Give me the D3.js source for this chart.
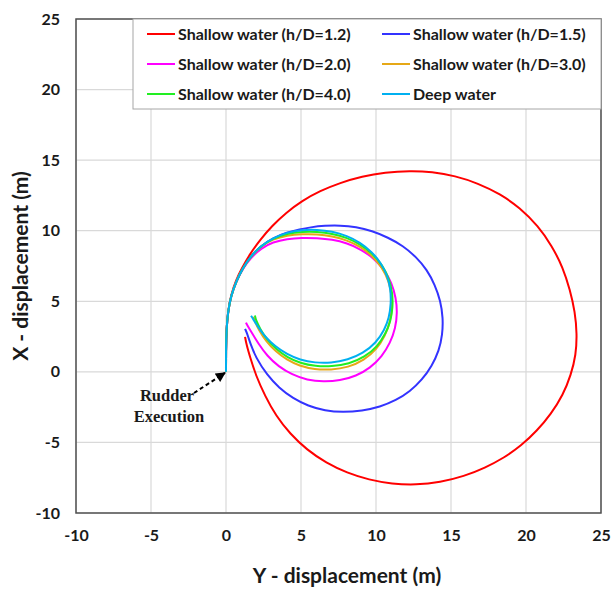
<!DOCTYPE html>
<html>
<head>
<meta charset="utf-8">
<script src="https://cdn.jsdelivr.net/npm/d3@7"></script>
<style>
  body { margin: 0; background: #fff; }
  svg { display: block; }
  text { font-family: Lato, "Open Sans", sans-serif; font-weight: bold; fill: #1a1a1a; }
</style>
</head>
<body>
<svg id="chart"></svg>
<script>
// trajectories as [Y, X] pairs (m)
const shallow12 = [[0,0],[0,1.56],[0.03,2.98],[0.13,4.25],[0.33,5.46],[0.67,6.52],[1.07,7.37],[1.6,8.36],[2.27,9.35],[3.07,10.34],[4.0,11.27],[5.07,12.12],[6.27,12.82],[7.6,13.39],[9.07,13.85],[10.6,14.13],[12.27,14.24],[13.73,14.17],[15.27,13.89],[16.8,13.36],[18.27,12.61],[19.6,11.62],[20.8,10.34],[21.73,8.93],[22.47,7.37],[22.93,5.81],[23.27,4.25],[23.4,2.69],[23.33,1.2],[23.0,-0.21],[22.47,-1.63],[21.67,-2.98],[20.73,-4.18],[19.67,-5.24],[18.53,-6.09],[17.27,-6.8],[15.87,-7.4],[14.27,-7.83],[12.67,-8.01],[11.07,-7.94],[9.53,-7.65],[8.07,-7.16],[6.67,-6.45],[5.4,-5.53],[4.27,-4.39],[3.33,-3.12],[2.6,-1.7],[2.0,-0.28],[1.6,1.06],[1.37,1.91],[1.27,2.48]];
const shallow15 = [[0,0],[0,1.56],[0.03,2.98],[0.13,4.25],[0.33,5.39],[0.7,6.45],[1.13,7.37],[1.67,8.22],[2.33,8.93],[3.13,9.49],[4.07,9.88],[4.93,10.1],[5.6,10.24],[6.6,10.36],[7.6,10.38],[8.67,10.27],[9.73,9.99],[10.8,9.52],[11.8,8.93],[12.67,8.15],[13.4,7.23],[13.93,6.16],[14.3,5.03],[14.47,3.83],[14.43,2.62],[14.2,1.49],[13.73,0.43],[13.07,-0.57],[12.27,-1.38],[11.33,-2.02],[10.27,-2.48],[9.07,-2.76],[7.8,-2.86],[6.6,-2.76],[5.47,-2.41],[4.47,-1.88],[3.53,-1.13],[2.73,-0.21],[2.0,0.99],[1.63,1.98],[1.4,2.76],[1.27,3.05]];
const shallow20 = [[0,0],[0,1.56],[0.03,2.98],[0.13,4.25],[0.33,5.39],[0.7,6.45],[1.13,7.33],[1.67,8.1],[2.33,8.75],[3.13,9.2],[4.07,9.43],[5.07,9.5],[6.07,9.48],[7.07,9.38],[8.07,9.12],[9.0,8.68],[9.85,8.05],[10.55,7.25],[11.05,6.3],[11.33,5.25],[11.42,4.2],[11.3,3.1],[10.95,2.05],[10.4,1.1],[9.62,0.28],[8.67,-0.3],[7.6,-0.62],[6.5,-0.71],[5.4,-0.58],[4.4,-0.2],[3.5,0.38],[2.75,1.12],[2.17,1.98],[1.7,2.8],[1.42,3.3],[1.33,3.49]];
const shallow30 = [[0,0],[0,1.56],[0.03,2.98],[0.13,4.25],[0.33,5.39],[0.7,6.45],[1.13,7.37],[1.67,8.2],[2.33,8.9],[3.13,9.4],[4.07,9.68],[5.07,9.76],[6.07,9.76],[7.07,9.62],[8.07,9.33],[8.97,8.87],[9.78,8.2],[10.4,7.4],[10.85,6.45],[11.05,5.45],[11.07,4.45],[10.92,3.45],[10.6,2.55],[10.05,1.6],[9.2,0.82],[8.15,0.32],[7.0,0.14],[5.9,0.17],[4.9,0.42],[4.05,0.85],[3.3,1.45],[2.67,2.17],[2.2,2.95],[1.93,3.55],[1.83,3.9]];
const shallow40 = [[0,0],[0,1.56],[0.03,2.98],[0.13,4.25],[0.33,5.39],[0.7,6.45],[1.13,7.37],[1.67,8.21],[2.33,8.92],[3.13,9.45],[4.07,9.8],[5.07,9.93],[6.07,9.93],[7.07,9.8],[8.07,9.5],[8.97,9.03],[9.8,8.35],[10.43,7.55],[10.88,6.6],[11.1,5.6],[11.12,4.6],[10.98,3.6],[10.65,2.72],[10.1,1.8],[9.25,1.05],[8.2,0.56],[7.05,0.38],[5.95,0.4],[4.95,0.62],[4.1,1.02],[3.35,1.6],[2.72,2.3],[2.27,3.05],[2.0,3.65],[1.93,3.99]];
const deepWater = [[0,0],[0,1.56],[0.03,2.98],[0.13,4.25],[0.33,5.39],[0.7,6.45],[1.13,7.37],[1.67,8.22],[2.33,8.93],[3.13,9.49],[4.07,9.88],[5.07,10.06],[6.07,10.08],[7.07,9.95],[8.07,9.64],[8.93,9.18],[9.73,8.5],[10.33,7.72],[10.77,6.8],[10.98,5.81],[11.0,4.82],[10.87,3.83],[10.57,2.98],[10.0,2.05],[9.13,1.31],[8.13,0.85],[7.0,0.62],[5.93,0.64],[4.93,0.85],[4.07,1.24],[3.27,1.81],[2.6,2.48],[2.13,3.19],[1.8,3.76],[1.67,3.97]];

const seriesNames = ["Shallow water (h/D=1.2)", "Shallow water (h/D=1.5)", "Shallow water (h/D=2.0)", "Shallow water (h/D=3.0)", "Shallow water (h/D=4.0)", "Deep water"];
const seriesData = [shallow12, shallow15, shallow20, shallow30, shallow40, deepWater];
const seriesColors = ["#ff0000", "#3333ff", "#ff00ff", "#e6a817", "#22ee22", "#00b0f0"];
const tickValues = [-10, -5, 0, 5, 10, 15, 20, 25];

const width = 611, height = 592;
const margin = { top: 19, right: 10, bottom: 79, left: 76 };

const svg = d3.select("#chart").attr("width", width).attr("height", height);

const x = d3.scaleLinear().domain([-10, 25]).range([margin.left, width - margin.right]);
const y = d3.scaleLinear().domain([-10, 25]).range([height - margin.bottom, margin.top]);

// grid
svg.append("g").selectAll("line").data(tickValues).enter().append("line")
  .attr("x1", d => x(d)).attr("x2", d => x(d))
  .attr("y1", y(-10)).attr("y2", y(25))
  .attr("stroke", "#d9d9d9").attr("stroke-width", 1.2);
svg.append("g").selectAll("line").data(tickValues).enter().append("line")
  .attr("x1", x(-10)).attr("x2", x(25))
  .attr("y1", d => y(d)).attr("y2", d => y(d))
  .attr("stroke", "#d9d9d9").attr("stroke-width", 1.2);

// axes (labels only), plain hyphen for negatives
const xAxis = svg.append("g")
  .attr("transform", `translate(0,${y(-10)})`)
  .call(d3.axisBottom(x).tickValues(tickValues).tickFormat(d => String(d)).tickSize(0).tickPadding(17));
const yAxis = svg.append("g")
  .attr("transform", `translate(${x(-10)},0)`)
  .call(d3.axisLeft(y).tickValues(tickValues).tickFormat(d => String(d)).tickSize(0).tickPadding(16));
[xAxis, yAxis].forEach(a => {
  a.select(".domain").remove();
  a.selectAll("text").style("font-family", "Lato, sans-serif").style("font-weight", "bold")
    .style("font-size", "16px").attr("fill", "#1a1a1a");
});

// plot border
svg.append("rect")
  .attr("x", x(-10)).attr("y", y(25))
  .attr("width", x(25) - x(-10)).attr("height", y(-10) - y(25))
  .attr("fill", "none").attr("stroke", "#505050").attr("stroke-width", 1.5);

// trajectories
const line = d3.line()
  .x(d => x(d[0]))
  .y(d => y(d[1]))
  .curve(d3.curveBasis);

svg.append("g").selectAll("path").data(seriesData).enter().append("path")
  .attr("d", line)
  .attr("fill", "none")
  .attr("stroke", (d, i) => seriesColors[i])
  .attr("stroke-width", 2);

// legend
const legend = svg.append("g");
legend.append("rect")
  .attr("x", 133).attr("y", y(25))
  .attr("width", x(25) - 133).attr("height", 90)
  .attr("fill", "#fff").attr("stroke", "#a6a6a6").attr("stroke-width", 1);
const items = legend.selectAll("g.item").data(seriesNames).enter().append("g")
  .attr("class", "item")
  .attr("transform", (d, i) => `translate(${i % 2 === 0 ? 147 : 382},${34 + Math.floor(i / 2) * 30})`);
items.append("line")
  .attr("x1", 0).attr("x2", 28)
  .attr("stroke", (d, i) => seriesColors[i]).attr("stroke-width", 2);
items.append("text")
  .attr("x", 31).attr("dy", "0.35em")
  .style("font-size", "16px")
  .text(d => d);

// axis titles
svg.append("text")
  .attr("x", 347).attr("y", 583)
  .attr("text-anchor", "middle")
  .style("font-size", "21px")
  .text("Y - displacement (m)");
svg.append("text")
  .attr("transform", `translate(28,${(y(25) + y(-10)) / 2}) rotate(-90)`)
  .attr("text-anchor", "middle")
  .style("font-size", "21px")
  .text("X - displacement (m)");

// rudder annotation
svg.append("defs").append("marker")
  .attr("id", "arrow").attr("viewBox", "0 0 10 10")
  .attr("refX", 9).attr("refY", 5)
  .attr("markerUnits", "userSpaceOnUse")
  .attr("markerWidth", 11).attr("markerHeight", 10)
  .attr("orient", "auto")
  .append("path").attr("d", "M0,0L10,5L0,10Z").attr("fill", "#000");
svg.append("line")
  .attr("x1", 194).attr("y1", 393)
  .attr("x2", x(0) - 1).attr("y2", y(0) + 1)
  .attr("stroke", "#000").attr("stroke-width", 2)
  .attr("stroke-dasharray", "4,3")
  .attr("marker-end", "url(#arrow)");
const note = svg.append("text")
  .attr("text-anchor", "middle")
  .style("font-family", "'Liberation Serif', 'Times New Roman', serif")
  .style("font-size", "16.5px");
note.append("tspan").attr("x", 167).attr("y", 401).text("Rudder");
note.append("tspan").attr("x", 169).attr("y", 422).text("Execution");
</script>
</body>
</html>
